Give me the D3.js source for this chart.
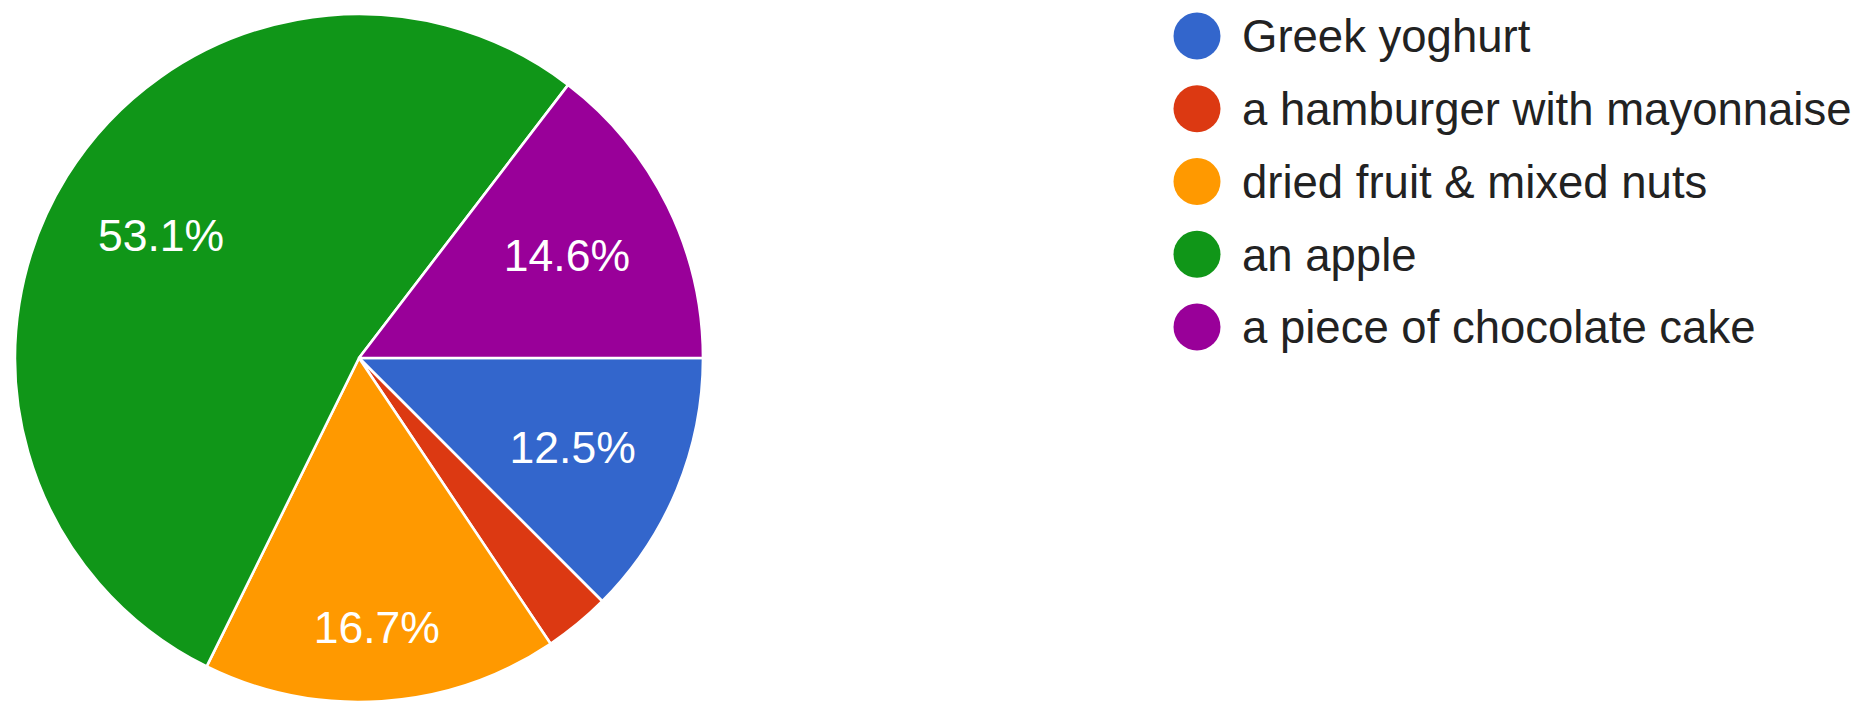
<!DOCTYPE html>
<html>
<head>
<meta charset="utf-8">
<script src="https://cdn.jsdelivr.net/npm/d3@7"></script>
<style>
  html, body { margin: 0; padding: 0; background: #fff; }
  svg { display: block; }
  text { font-family: Arial, "Liberation Sans", sans-serif; }
</style>
</head>
<body>
<svg id="chart" width="1863" height="701"></svg>
<script>
// Survey answers and their share of responses (%)
const categories = [
  "Greek yoghurt",
  "a hamburger with mayonnaise",
  "dried fruit & mixed nuts",
  "an apple",
  "a piece of chocolate cake"
];
const shares = [12.5, 3.1, 16.7, 53.1, 14.6];
const colors = ["#3366cc", "#dc3912", "#ff9900", "#109618", "#990099"];

const cx = 359, cy = 358, radius = 344;
const labelFont = 44.5;

const svg = d3.select("#chart");

const data = categories.map((c, i) => ({ category: c, share: shares[i], color: colors[i] }));

// Slices run clockwise from 3 o'clock, in category order
const pie = d3.pie()
  .value(d => d.share)
  .sort(null)
  .startAngle(Math.PI / 2)
  .endAngle(Math.PI / 2 + 2 * Math.PI);

const arc = d3.arc().innerRadius(0).outerRadius(radius);

const g = svg.append("g").attr("transform", `translate(${cx},${cy})`);
const arcs = pie(data);

g.selectAll("path.slice")
  .data(arcs)
  .join("path")
  .attr("class", "slice")
  .attr("d", arc)
  .attr("fill", d => d.data.color)
  .attr("stroke", "#fff")
  .attr("stroke-width", 2.6)
  .attr("stroke-linejoin", "round");

// Percentage labels, only for slices wide enough to hold them.
// Each label sits on its slice's middle ray, pushed out until the
// outer corner of its text box reaches a fixed inner radius.
const cornerRadius = radius * 0.86;
const halfH = labelFont * 0.36;

const labels = g.selectAll("text.pct")
  .data(arcs.filter(d => d.data.share >= 5))
  .join("text")
  .attr("class", "pct")
  .attr("text-anchor", "middle")
  .attr("dy", "0.36em")
  .attr("fill", "#fff")
  .attr("font-size", labelFont)
  .text(d => d3.format(".1f")(d.data.share) + "%");

labels.each(function (d) {
  const halfW = this.getComputedTextLength() / 2;
  const mid = (d.startAngle + d.endAngle) / 2;
  const s = Math.sin(mid), c = -Math.cos(mid);
  const b = halfW * Math.abs(s) + halfH * Math.abs(c);
  const k = halfW * halfW + halfH * halfH - cornerRadius * cornerRadius;
  const dist = -b + Math.sqrt(b * b - k);
  d3.select(this).attr("transform", `translate(${dist * s},${dist * c})`);
});

// Legend
const legendX = 1197, legendY0 = 36, legendStep = 72.75;
const legend = svg.append("g");
const rows = legend.selectAll("g.row")
  .data(data)
  .join("g")
  .attr("class", "row")
  .attr("transform", (d, i) => `translate(${legendX},${legendY0 + i * legendStep})`);

rows.append("circle")
  .attr("r", 23.5)
  .attr("fill", d => d.color);

rows.append("text")
  .attr("x", 45)
  .attr("dy", "0.36em")
  .attr("fill", "#222")
  .attr("font-size", 45.5)
  .text(d => d.category);
</script>
</body>
</html>
